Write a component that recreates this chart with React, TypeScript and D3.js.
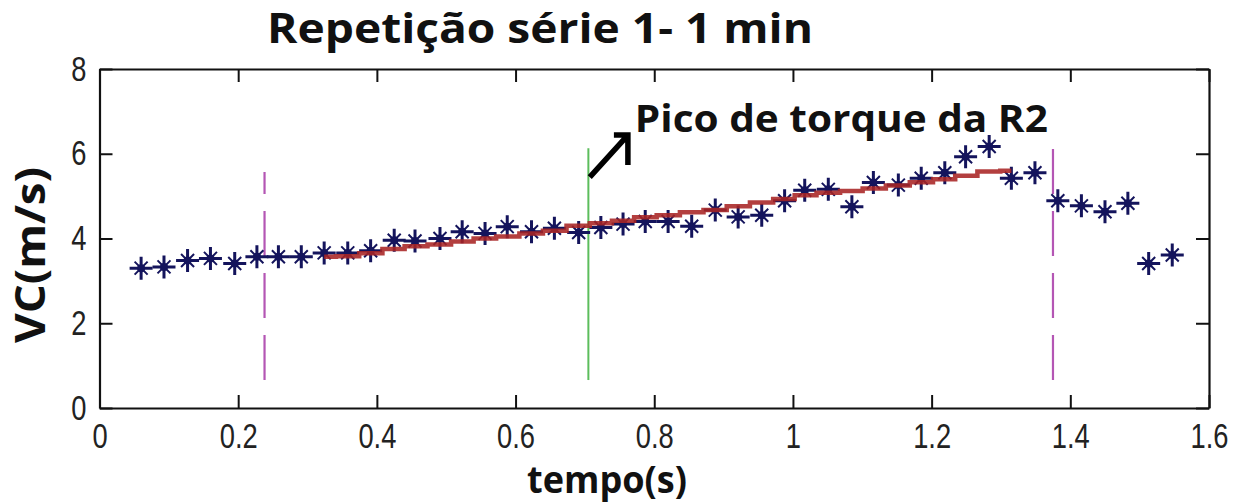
import React, { useEffect, useRef } from 'react';
import * as d3 from 'd3';

// time (s) of each sample
const TIME = [
  0.060, 0.093, 0.127, 0.160, 0.195, 0.227, 0.258, 0.291, 0.324, 0.358,
  0.391, 0.425, 0.455, 0.491, 0.523, 0.556, 0.588, 0.623, 0.656, 0.691,
  0.723, 0.755, 0.787, 0.820, 0.854, 0.888, 0.921, 0.955, 0.988, 1.017,
  1.051, 1.085, 1.116, 1.152, 1.185, 1.219, 1.249, 1.283, 1.315, 1.349,
  1.382, 1.416, 1.450, 1.483, 1.513, 1.547,
];
// VC (m/s) of each sample
const VC = [
  3.30, 3.33, 3.48, 3.53, 3.41, 3.57, 3.57, 3.57, 3.66, 3.66,
  3.71, 3.96, 3.94, 4.00, 4.16, 4.12, 4.28, 4.16, 4.24, 4.14,
  4.26, 4.34, 4.40, 4.40, 4.29, 4.67, 4.51, 4.55, 4.89, 5.14,
  5.16, 4.75, 5.32, 5.26, 5.42, 5.55, 5.93, 6.17, 5.42, 5.55,
  4.89, 4.77, 4.63, 4.83, 3.41, 3.61,
];
// red trend line (staircase) times and values
const FIT_TIME = [
  0.324, 0.358, 0.391, 0.425, 0.455, 0.491, 0.523, 0.556, 0.588, 0.623,
  0.656, 0.691, 0.723, 0.755, 0.787, 0.820, 0.854, 0.888, 0.921, 0.955,
  0.988, 1.017, 1.051, 1.085, 1.116, 1.152, 1.185, 1.219, 1.249, 1.283, 1.315,
];
const FIT_VC = [
  3.57, 3.58, 3.65, 3.75, 3.82, 3.86, 3.93, 4.00, 4.05, 4.12,
  4.18, 4.30, 4.36, 4.42, 4.50, 4.55, 4.62, 4.67, 4.76, 4.85,
  4.93, 5.02, 5.08, 5.12, 5.18, 5.25, 5.33, 5.40, 5.48, 5.58, 5.60,
];
// vertical markers: [time, bottom, top]
const DASHED_LINES: [number, number, number][] = [
  [0.238, 0.66, 5.57],
  [1.375, 0.66, 6.13],
];
const PEAK_LINE: [number, number, number] = [0.705, 0.66, 6.13];

const X_TICKS = [0, 0.2, 0.4, 0.6, 0.8, 1, 1.2, 1.4, 1.6];
const Y_TICKS = [0, 2, 4, 6, 8];

const TITLE = 'Repetição série 1- 1 min';
const X_LABEL = 'tempo(s)';
const Y_LABEL = 'VC(m/s)';
const ANNOTATION = 'Pico de torque da R2';
// annotation arrow in data coords: tail -> tip
const ARROW_TAIL: [number, number] = [0.707, 5.45];
const ARROW_TIP: [number, number] = [0.762, 6.44];
const ANNOTATION_POS: [number, number] = [0.772, 6.51];

const W = 1240;
const H = 504;
const LEFT = 99.5;
const RIGHT = 1209;
const TOP = 69;
const BOTTOM = 408;

export default function App() {
  const ref = useRef<SVGSVGElement>(null);

  useEffect(() => {
    const svg = d3.select(ref.current);
    svg.selectAll('*').remove();

    const x = d3.scaleLinear().domain([0, 1.6]).range([LEFT, RIGHT]);
    const y = d3.scaleLinear().domain([0, 8]).range([BOTTOM, TOP]);

    svg.append('rect').attr('width', W).attr('height', H).attr('fill', '#fff');

    const tickFont = '"Liberation Sans", Arial, sans-serif';
    const SX = 0.78;

    // bottom axis
    const gb = svg.append('g').attr('transform', `translate(0,${BOTTOM})`)
      .call(d3.axisBottom(x).tickValues(X_TICKS).tickFormat((d) => String(d))
        .tickSizeInner(-13).tickSizeOuter(0).tickPadding(15));
    // left axis
    const gl = svg.append('g').attr('transform', `translate(${LEFT},0)`)
      .call(d3.axisLeft(y).tickValues(Y_TICKS).tickFormat((d) => String(d))
        .tickSizeInner(-13).tickSizeOuter(0).tickPadding(13));
    // top axis
    const gt = svg.append('g').attr('transform', `translate(0,${TOP})`)
      .call(d3.axisTop(x).tickValues(X_TICKS).tickFormat(() => '')
        .tickSizeInner(-13).tickSizeOuter(0));
    // right axis
    const gr = svg.append('g').attr('transform', `translate(${RIGHT},0)`)
      .call(d3.axisRight(y).tickValues(Y_TICKS).tickFormat(() => '')
        .tickSizeInner(-13).tickSizeOuter(0));

    [gb, gl, gt, gr].forEach((g) => {
      g.select('.domain').attr('stroke', '#111').attr('stroke-width', 2.2);
      g.selectAll('.tick line').attr('stroke', '#111').attr('stroke-width', 2);
      g.selectAll('.tick text')
        .attr('fill', '#222')
        .style('font-family', tickFont)
        .style('font-size', '35px');
    });
    gb.selectAll('.tick text').attr('transform', `scale(${SX},1)`);
    gl.selectAll('.tick text').attr('x', -13 / SX).attr('transform', `scale(${SX},1)`);

    // vertical lines
    DASHED_LINES.forEach(([t, y0, y1]) => {
      svg.append('line')
        .attr('x1', x(t)).attr('x2', x(t))
        .attr('y1', y(y0)).attr('y2', y(y1))
        .attr('stroke', '#b456b4').attr('stroke-width', 2.2)
        .attr('stroke-dasharray', '45 17');
    });
    svg.append('line')
      .attr('x1', x(PEAK_LINE[0])).attr('x2', x(PEAK_LINE[0]))
      .attr('y1', y(PEAK_LINE[1])).attr('y2', y(PEAK_LINE[2]))
      .attr('stroke', '#5cbd5c').attr('stroke-width', 2);

    // markers
    const mk = svg.append('g');
    TIME.forEach((t, i) => {
      const cx = x(t);
      const cy = y(VC[i]);
      const g = mk.append('g').attr('transform', `translate(${cx},${cy})`);
      g.append('path').attr('d', 'M-11.5,0H11.5M0,-11.5V11.5')
        .attr('stroke', '#14145c').attr('stroke-width', 3).attr('fill', 'none');
      g.append('path').attr('d', 'M-6.5,-6.5L6.5,6.5M-6.5,6.5L6.5,-6.5')
        .attr('stroke', '#14145c').attr('stroke-width', 2).attr('fill', 'none');
      g.append('circle').attr('r', 4).attr('fill', '#14145c');
    });

    // red trend line
    const line = d3.line<number>()
      .x((_, i) => x(FIT_TIME[i]))
      .y((d) => y(d))
      .curve(d3.curveStep);
    svg.append('path').datum(FIT_VC)
      .attr('d', line)
      .attr('fill', 'none')
      .attr('stroke', '#a82424')
      .attr('stroke-width', 4.5)
      .attr('opacity', 0.88);

    // arrow
    const [tx, ty] = [x(ARROW_TAIL[0]), y(ARROW_TAIL[1])];
    const [hx, hy] = [x(ARROW_TIP[0]), y(ARROW_TIP[1])];
    svg.append('path')
      .attr('d', `M${tx},${ty}L${hx},${hy}M${hx - 14},${hy}L${hx},${hy}L${hx},${hy + 30}`)
      .attr('stroke', '#000').attr('stroke-width', 5.5).attr('fill', 'none')
      .attr('stroke-linejoin', 'miter');

    const boldFont = '"Open Sans", "Noto Sans", sans-serif';
    svg.append('text')
      .attr('x', x(ANNOTATION_POS[0])).attr('y', y(ANNOTATION_POS[1]))
      .attr('textLength', 413).attr('lengthAdjust', 'spacingAndGlyphs')
      .style('font-family', boldFont).style('font-weight', 700).style('font-size', '38px')
      .attr('fill', '#111')
      .text(ANNOTATION);

    // title
    svg.append('text')
      .attr('x', 540).attr('y', 43).attr('text-anchor', 'middle')
      .attr('textLength', 546).attr('lengthAdjust', 'spacingAndGlyphs')
      .style('font-family', boldFont).style('font-weight', 700).style('font-size', '41px')
      .attr('fill', '#111')
      .text(TITLE);

    // x label
    svg.append('text')
      .attr('x', 607).attr('y', 493).attr('text-anchor', 'middle')
      .attr('textLength', 160).attr('lengthAdjust', 'spacingAndGlyphs')
      .style('font-family', boldFont).style('font-weight', 700).style('font-size', '38px')
      .attr('fill', '#111')
      .text(X_LABEL);

    // y label
    svg.append('text')
      .attr('transform', 'translate(45,255) rotate(-90)')
      .attr('text-anchor', 'middle')
      .attr('textLength', 176).attr('lengthAdjust', 'spacingAndGlyphs')
      .style('font-family', boldFont).style('font-weight', 700).style('font-size', '41px')
      .attr('fill', '#111')
      .text(Y_LABEL);
  }, []);

  return (
    <svg
      ref={ref}
      width={W}
      height={H}
      style={{ position: 'absolute', left: 0, top: 0, display: 'block' }}
    />
  );
}
